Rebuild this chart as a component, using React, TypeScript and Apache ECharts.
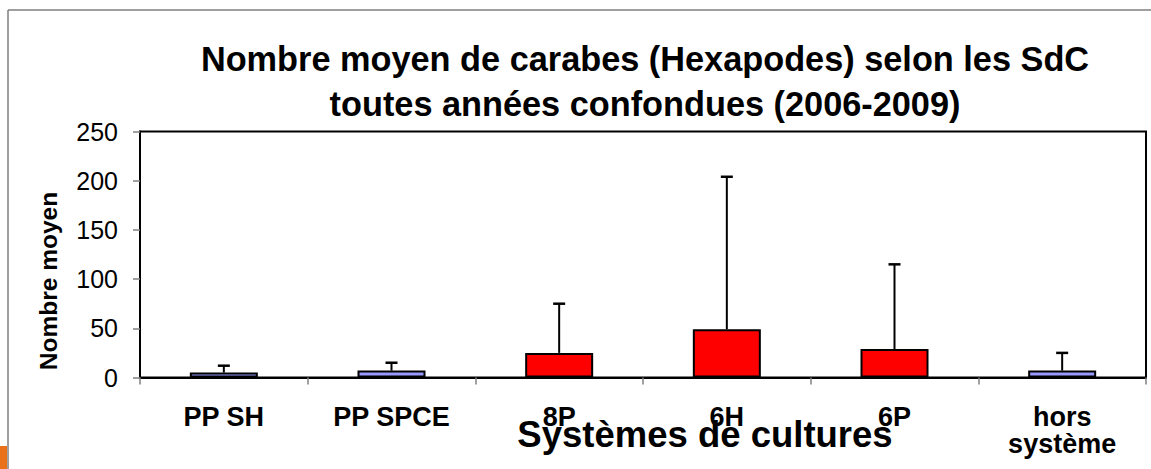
import React, { useEffect, useRef } from "react";
import * as echarts from "echarts";

const categories = ["PP SH", "PP SPCE", "8P", "6H", "6P", "hors\nsystème"];
const means = [5, 7, 25, 49, 29, 7];
const errors = [7, 8, 50, 155, 86, 18];
const barColors = ["#9999FF", "#9999FF", "#FF0000", "#FF0000", "#FF0000", "#9999FF"];
const yTicks = { min: 0, max: 250, interval: 50 };
const titleText = "Nombre moyen de carabes (Hexapodes) selon les SdC\ntoutes années confondues (2006-2009)";
const yName = "Nombre moyen";
const xName = "Systèmes de cultures";

const FONT = "'Liberation Sans', Arial, sans-serif";

export default function App() {
  const ref = useRef<HTMLDivElement>(null);
  useEffect(() => {
    if (!ref.current) return;
    const chart = echarts.init(ref.current, undefined, { renderer: "svg" });
    const option: any = {
      animation: false,
      backgroundColor: "#ffffff",
      title: {
        text: titleText,
        left: 640,
        top: 31,
        textAlign: "center",
        textStyle: {
          fontFamily: FONT,
          fontWeight: "bold",
          fontSize: 34.3,
          lineHeight: 45,
          color: "#000",
        },
      },
      grid: {
        left: 140,
        top: 131.5,
        width: 1006,
        height: 246,
        show: true,
        borderColor: "#000",
        borderWidth: 2,
        backgroundColor: "transparent",
        containLabel: false,
      },
      xAxis: {
        type: "category",
        data: categories,
        axisLine: { lineStyle: { color: "#000", width: 2 } },
        axisTick: { show: true, length: 7, lineStyle: { color: "#808080", width: 1.5 } },
        axisLabel: {
          fontFamily: FONT,
          fontWeight: "bold",
          fontSize: 27,
          color: "#000",
          margin: 26,
          lineHeight: 27,
          interval: 0,
        },
      },
      yAxis: {
        type: "value",
        min: yTicks.min,
        max: yTicks.max,
        interval: yTicks.interval,
        splitLine: { show: false },
        axisLine: { show: true, lineStyle: { color: "#000", width: 2 } },
        axisTick: { show: true, length: 7, lineStyle: { color: "#808080", width: 1.5 } },
        axisLabel: {
          fontFamily: FONT,
          fontSize: 25,
          color: "#000",
          margin: 22,
        },
      },
      series: [
        {
          type: "bar",
          barWidth: 68,
          data: means.map((v, i) => ({
            value: v,
            itemStyle: { color: barColors[i], borderColor: "#000", borderWidth: 2 },
          })),
        },
        {
          type: "custom",
          z: 3,
          data: categories.map((_, i) => [i, means[i], errors[i]]),
          renderItem: (params: any, api: any) => {
            const idx = api.value(0);
            const m = api.value(1);
            const e = api.value(2);
            const base = api.coord([idx, m]);
            const top = api.coord([idx, m + e]);
            const x = base[0];
            return {
              type: "group",
              children: [
                {
                  type: "line",
                  shape: { x1: x, y1: base[1], x2: x, y2: top[1] },
                  style: { stroke: "#000", lineWidth: 2 },
                },
                {
                  type: "line",
                  shape: { x1: x - 6, y1: top[1], x2: x + 6, y2: top[1] },
                  style: { stroke: "#000", lineWidth: 2.5 },
                },
              ],
            };
          },
        },
      ],
      graphic: [
        {
          type: "line",
          shape: { x1: 8, y1: 10, x2: 1151, y2: 10 },
          style: { stroke: "#7f7f7f", lineWidth: 1.5 },
        },
        {
          type: "line",
          shape: { x1: 8, y1: 10, x2: 8, y2: 469 },
          style: { stroke: "#7f7f7f", lineWidth: 1.5 },
        },
        {
          type: "rect",
          shape: { x: 0, y: 446, width: 7, height: 23 },
          style: { fill: "#E8711A" },
        },
        {
          type: "text",
          x: 48,
          y: 281,
          rotation: Math.PI / 2,
          style: {
            text: yName,
            fontFamily: FONT,
            fontWeight: "bold",
            fontSize: 24.5,
            fill: "#000",
            align: "center",
            verticalAlign: "middle",
          },
        },
        {
          type: "text",
          x: 705,
          y: 434,
          style: {
            text: xName,
            fontFamily: FONT,
            fontWeight: "bold",
            fontSize: 36.5,
            fill: "#000",
            align: "center",
            verticalAlign: "middle",
          },
        },
      ],
    };
    chart.setOption(option);
    return () => chart.dispose();
  }, []);
  return (
    <div
      ref={ref}
      style={{ position: "absolute", left: 0, top: 0, width: 1151, height: 469, background: "#fff" }}
    />
  );
}
